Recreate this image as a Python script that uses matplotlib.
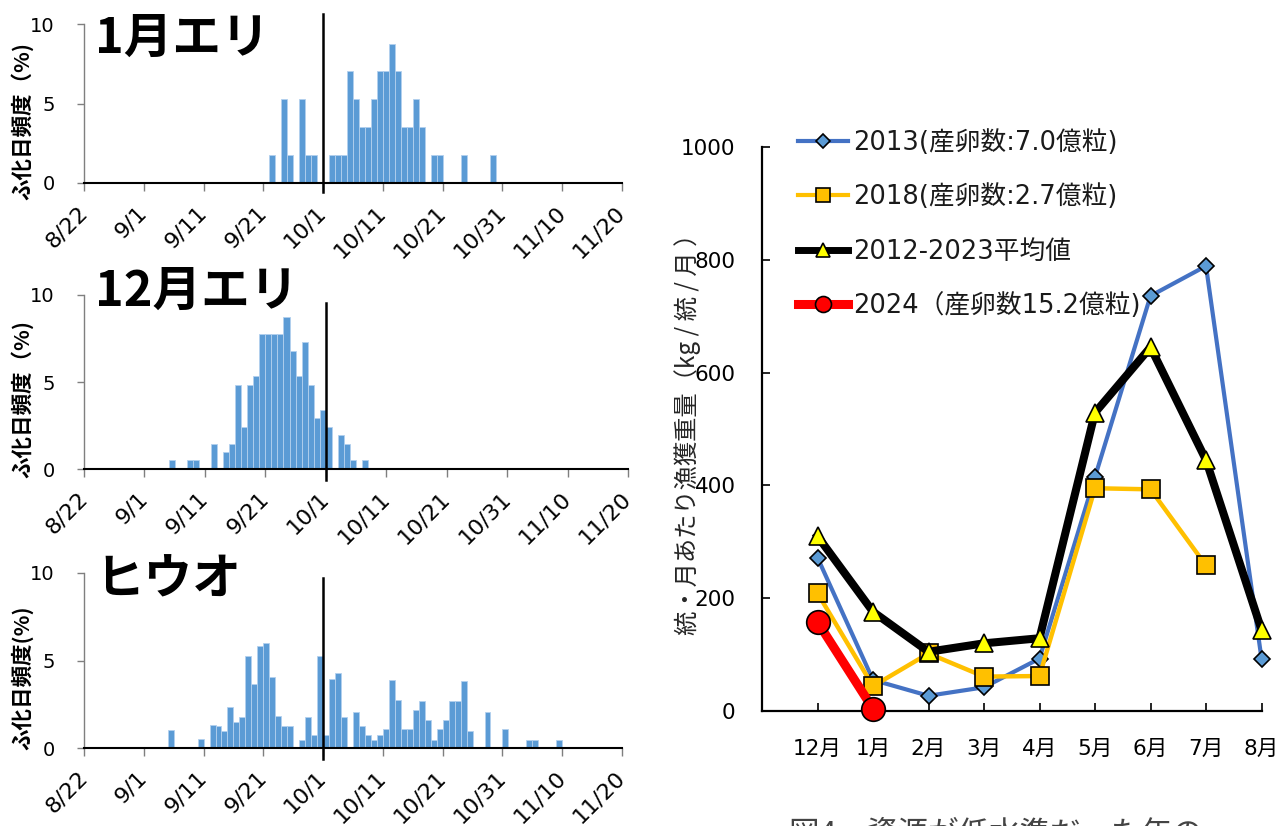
import numpy as np
import matplotlib.pyplot as plt

plt.rcParams['font.family'] = ['DejaVu Sans', 'Noto Sans CJK JP']

# ---------------- hatch-date histograms (day offset from 8/22, frequency %) ----
date_labels = ['8/22', '9/1', '9/11', '9/21', '10/1', '10/11', '10/21',
               '10/31', '11/10', '11/20']
ref_day = 40  # 10/1

jan_days = [31, 33, 34, 36, 37, 38, 41, 42, 43, 44, 45, 46, 47, 48, 49, 50,
            51, 52, 53, 54, 55, 56, 58, 59, 63, 68]
jan_pct = [1.75, 5.26, 1.75, 5.26, 1.75, 1.75, 1.75, 1.75, 1.75, 7.02, 5.26,
           3.51, 3.51, 5.26, 7.02, 7.02, 8.77, 7.02, 3.51, 3.51, 5.26, 3.51,
           1.75, 1.75, 1.75, 1.75]

dec_days = [14, 17, 18, 21, 23, 24, 25, 26, 27, 28, 29, 30, 31, 32, 33, 34,
            35, 36, 37, 38, 39, 40, 42, 43, 44, 46]
dec_pct = [0.49, 0.49, 0.49, 1.46, 0.97, 1.46, 4.85, 2.43, 4.85, 5.34, 7.77,
           7.77, 7.77, 7.77, 8.74, 6.80, 5.34, 7.28, 4.85, 2.91, 3.40, 2.43,
           1.94, 1.46, 0.49, 0.49]

hiuo_days = [14, 19, 21, 22, 23, 24, 25, 26, 27, 28, 29, 30, 31, 32, 33, 34,
             36, 37, 38, 39, 40, 41, 42, 43, 45, 46, 47, 48, 49, 50, 51, 52,
             53, 54, 55, 56, 57, 58, 59, 60, 61, 62, 63, 64, 67, 70, 74, 75, 79]
hiuo_pct = [1.02, 0.50, 1.31, 1.27, 0.96, 2.33, 1.50, 1.77, 5.23, 3.65, 5.85,
            5.98, 4.08, 1.83, 1.27, 1.27, 0.44, 1.77, 0.77, 5.27, 0.77, 3.96,
            4.31, 1.77, 2.08, 1.27, 0.77, 0.44, 0.77, 1.08, 3.88, 2.75, 1.08,
            1.08, 2.19, 2.71, 1.58, 0.44, 1.08, 1.58, 2.71, 2.71, 3.85, 0.96,
            2.08, 1.08, 0.44, 0.44, 0.44]

# ---------------- monthly catch per net ----------------
months = ['12月', '1月', '2月', '3月', '4月', '5月', '6月', '7月', '8月']
catch_2013 = [272, 55, 27, 42, 93, 415, 736, 789, 93]
catch_2018 = [209, 44, 102, 61, 62, 395, 393, 258, np.nan]
catch_avg = [310, 176, 105, 120, 129, 529, 645, 445, 144]
catch_2024 = [158, 4]

W, H = 1288, 826
fig = plt.figure(figsize=(W / 100, H / 100), dpi=100)


def px_axes(l, t, r, b):
    return fig.add_axes([l / W, 1 - b / H, (r - l) / W, (b - t) / H])


BAR = '#5B9BD5'

panels = [
    (jan_days, jan_pct, (84, 24, 622, 183), '1月エリ', 14, 'ふ化日頻度（%)', (10.63, -0.57)),
    (dec_days, dec_pct, (84, 295, 628, 469), '12月エリ', 267, 'ふ化日頻度（%)', (9.56, -0.65)),
    (hiuo_days, hiuo_pct, (84, 573, 622, 748), 'ヒウオ', 555, 'ふ化日頻度(%)', (9.71, -0.6)),
]

for days, pct, box, title, title_top, ylab, (ytop, ybot) in panels:
    ax = px_axes(*box)
    ax.bar(days, pct, width=1.0, align='edge', color=BAR,
           edgecolor='#b3d0ee', linewidth=0.6)
    ax.set_xlim(0, 90)
    ax.set_ylim(0, 10)
    ax.set_xticks(np.arange(0, 91, 10))
    ax.set_xticklabels(date_labels, rotation=45, ha='right', va='center',
                       rotation_mode='anchor', fontsize=16)
    ax.set_yticks([0, 5, 10])
    ax.set_yticklabels(['0', '5', '10'], fontsize=14)
    ax.tick_params(axis='x', length=6, width=1, color='#7f7f7f', pad=13)
    ax.tick_params(axis='y', length=5, width=1, color='#7f7f7f', pad=16)
    for s in ('top', 'right'):
        ax.spines[s].set_visible(False)
    ax.spines['left'].set_color('#7f7f7f')
    ax.spines['left'].set_linewidth(1)
    ax.spines['bottom'].set_color('black')
    ax.spines['bottom'].set_linewidth(1.5)
    ax.plot([ref_day, ref_day], [ybot, ytop], color='black', lw=1.8,
            clip_on=False, zorder=5)
    l, t, r, b = box
    fig.text(95 / W, 1 - title_top / H, title, fontsize=35, fontweight='bold',
             family='Noto Sans CJK JP', va='top', ha='left')
    fig.text(22 / W, 1 - ((t + b) / 2 + 17) / H, ylab, fontsize=15.5,
             fontweight='bold', family=['Noto Sans CJK JP'], rotation=90,
             va='center', ha='center')

# ---------------- line chart ----------------
ax = px_axes(762, 147, 1261.5, 711)
x = np.arange(1, len(months) + 1)

ax.plot(x, catch_2013, color='#4472C4', lw=3, marker='D', ms=8.6,
        mfc='#5B9BD5', mec='black', mew=1.2, zorder=3, clip_on=False,
        label='2013(産卵数:7.0億粒)')
ax.plot(x, catch_2018, color='#FFC000', lw=3.2, marker='s', ms=13,
        mfc='#FFC000', mec='black', mew=1.2, zorder=4, clip_on=False,
        label='2018(産卵数:2.7億粒)')
ax.plot(x, catch_avg, color='black', lw=5.8, marker='^', ms=13,
        mfc='#FFFF00', mec='black', mew=1.2, zorder=5, clip_on=False,
        label='2012-2023平均値')
ax.plot(x[:len(catch_2024)], catch_2024, color='#FF0000', lw=6.5, marker='o',
        ms=17, mfc='#FF0000', mec='black', mew=1.2, zorder=6, clip_on=False,
        label='2024（産卵数15.2億粒)')

ax.set_xlim(0, 9)
ax.set_ylim(0, 1000)
ax.set_xticks(x)
ax.set_xticklabels(months, fontsize=15.5)
ax.set_yticks(np.arange(0, 1001, 200))
ax.set_yticklabels([str(v) for v in range(0, 1001, 200)], fontsize=15.5)
ax.tick_params(axis='both', direction='in', length=6, width=1.2, color='black')
ax.tick_params(axis='x', pad=20)
ax.tick_params(axis='y', pad=19)
for s in ('top', 'right'):
    ax.spines[s].set_visible(False)
for s in ('left', 'bottom'):
    ax.spines[s].set_linewidth(1.6)

leg = ax.legend(loc='upper left', bbox_to_anchor=(798 / W, 1 - 130 / H),
                bbox_transform=fig.transFigure, frameon=False, fontsize=18.5,
                handlelength=1.95, handletextpad=0.2, labelspacing=1.1,
                borderpad=0, borderaxespad=0)
for h, ms, lw in zip(leg.legend_handles, [7.6, 9.4, 10, 11.5], [3, 3, 5, 6.5]):
    h.set_markersize(ms)
    h.set_linewidth(lw)
for t in leg.get_texts():
    t.set_color('#1a1a1a')

fig.text(688 / W, 1 - 428 / H, '統・月あたり漁獲重量（kg / 統 / 月 ）',
         fontsize=17.5, rotation=90, va='center', ha='center', color='#262626',
         family=['Noto Sans CJK JP'])

fig.text(789 / W, 1 - 818 / H, '図4　資源が低水準だった年の', fontsize=22,
         family=['Noto Sans CJK JP'], color='#444444', va='top', ha='left')

fig.savefig('out.png', dpi=100)
